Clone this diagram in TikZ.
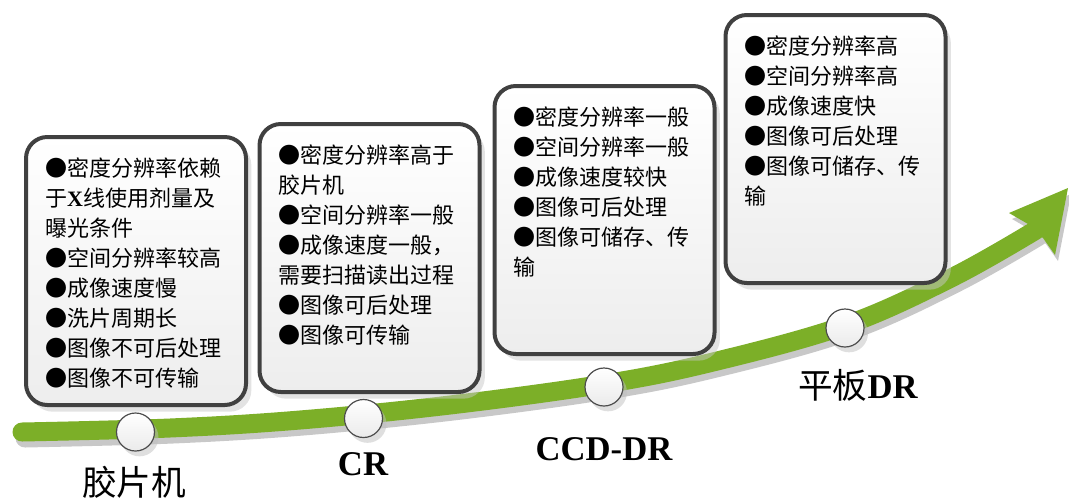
\documentclass[tikz,border=0pt]{standalone}
\usepackage{fontspec}
\setmainfont{Liberation Serif}
\newfontfamily\cjk{Noto Sans CJK SC}
\usetikzlibrary{positioning,shadows}

\definecolor{arrowgreen}{RGB}{124,175,40}
\definecolor{boxline}{RGB}{64,64,64}
\definecolor{shadowgray}{RGB}{200,200,200}

\tikzset{every picture/.style={line width=0.75pt}}
\tikzset{
  infobox/.style={draw=boxline, line width=3pt, rounded corners=16pt,
    top color=white, bottom color=black!7,
    minimum width=165pt, minimum height=201pt, inner sep=0pt,
    drop shadow={shadow xshift=4pt, shadow yshift=-5pt, fill=black!22, opacity=0.5}},
  infotext/.style={font=\cjk\fontsize{16.5}{22.5}\selectfont, align=left, inner sep=0pt},
  stage/.style={circle, draw=black!70, line width=0.9pt, minimum size=28.5pt, inner sep=0pt,
    top color=white, bottom color=black!8,
    drop shadow={shadow xshift=3pt, shadow yshift=-4pt, fill=black!25, opacity=0.5}},
  stagelabel/.style={font=\fontsize{26}{30}\selectfont\bfseries, inner sep=0pt},
}

\begin{document}
\begin{tikzpicture}[x=0.75pt,y=0.75pt,yscale=-1,xscale=1]
\useasboundingbox (0,0) rectangle (1069,500);

%Curve shadow
\begin{scope}[shift={(3,6)}]
\draw [shadowgray, line width=14.25pt, line cap=round] plot [smooth, tension=0.6] coordinates {(22,432) (170,428) (300,420) (450,405) (604,384) (713,362) (846,325) (953,277) (1036,230)};
\fill [shadowgray] (1068,188) -- (1009,213) -- (1028,224) -- (1043,238) -- (1055,255) -- cycle;
\end{scope}
%Curve arrow
\draw [arrowgreen, line width=14.25pt, line cap=round] plot [smooth, tension=0.6] coordinates {(22,432) (170,428) (300,420) (450,405) (604,384) (713,362) (846,325) (953,277) (1036,230)};
\fill [arrowgreen] (1068,188) -- (1009,213) -- (1028,224) -- (1043,238) -- (1055,255) -- cycle;

%Rounded Rect
\node [infobox] (film) at (136,271) {};
\node [infobox] (cr) at (369.5,258) {};
\node [infobox] (ccd) at (604.5,220) {};
\node [infobox] (flat) at (835.5,149) {};

% Text Node
\node [infotext, below right=17pt and 15.5pt of film.north west] (filmtext)
  {●密度分辨率依赖\\于{\rmfamily\bfseries X}线使用剂量及\\曝光条件\\●空间分辨率较高\\●成像速度慢\\●洗片周期长\\●图像不可后处理\\●图像不可传输};
% Text Node
\node [infotext, below right=17pt and 15.5pt of cr.north west] (crtext)
  {●密度分辨率高于\\胶片机\\●空间分辨率一般\\●成像速度一般，\\需要扫描读出过程\\●图像可后处理\\●图像可传输};
% Text Node
\node [infotext, below right=17pt and 15.5pt of ccd.north west] (ccdtext)
  {●密度分辨率一般\\●空间分辨率一般\\●成像速度较快\\●图像可后处理\\●图像可储存、传\\输};
% Text Node
\node [infotext, below right=17pt and 15.5pt of flat.north west] (flattext)
  {●密度分辨率高\\●空间分辨率高\\●成像速度快\\●图像可后处理\\●图像可储存、传\\输};

%Shape: Circle
\node [stage] (filmdot) at (135.5,432) {};
\node [stage] (crdot) at (363.5,418.5) {};
\node [stage] (ccddot) at (604,387) {};
\node [stage] (flatdot) at (845,328) {};

% Text Node
\node [stagelabel] (filmlabel) at (134,482) {\cjk\mdseries 胶片机};
% Text Node
\node [stagelabel] (crlabel) at (363,464) {CR};
% Text Node
\node [stagelabel] (ccdlabel) at (604,449) {CCD-DR};
% Text Node
\node [stagelabel] (flatlabel) at (858,385) {{\cjk\mdseries 平板}DR};

\end{tikzpicture}
\end{document}
